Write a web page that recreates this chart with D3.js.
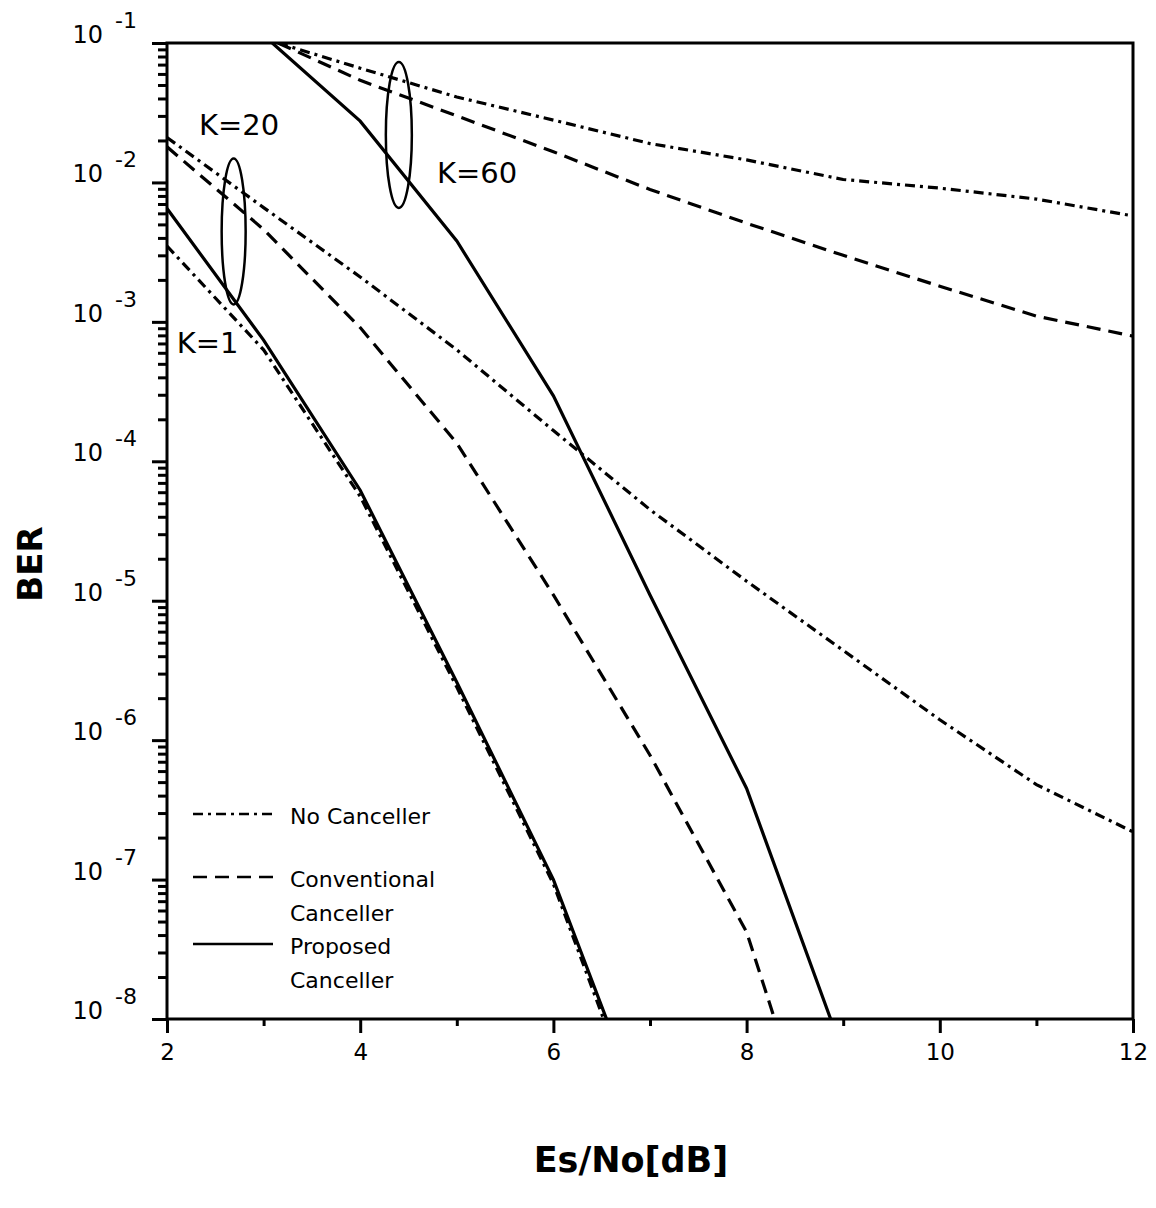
<!DOCTYPE html>
<html lang="en">
<head>
    <meta charset="UTF-8">
    <script src="https://d3js.org/d3.v7.min.js"></script>
    <title>BER vs Es/No</title>
</head>
<style>
*{
    font-family: 'DejaVu Sans', sans-serif;
}
body{
    margin: 0;
    background-color: white;
}
</style>
<body>
    <svg id='canvas'></svg>
</body>
<script>
// Es/No [dB] and BER, one pair of arrays per curve
let k1NoX = [2, 3, 4, 5, 6, 6.52]
let k1NoY = [3.5e-3, 6.3e-4, 5.6e-5, 2.4e-6, 9.3e-8, 1e-8]

let k20NoX = [2, 3, 4, 5, 6, 7, 8, 9, 10, 11, 12]
let k20NoY = [2.1e-2, 6.6e-3, 2.1e-3, 6.3e-4, 1.66e-4, 4.5e-5, 1.38e-5, 4.4e-6, 1.4e-6, 4.8e-7, 2.2e-7]

let k20ConvX = [2, 3, 4, 5, 6, 7, 8, 8.29]
let k20ConvY = [1.8e-2, 4.6e-3, 9.1e-4, 1.35e-4, 1.1e-5, 7.8e-7, 4.2e-8, 1e-8]

let k20PropX = [2, 3, 4, 5, 6, 6.55]
let k20PropY = [6.5e-3, 7.4e-4, 6.2e-5, 2.6e-6, 1e-7, 1e-8]

let k60NoX = [3.15, 4, 5, 6, 7, 8, 9, 10, 11, 12]
let k60NoY = [1e-1, 6.6e-2, 4.1e-2, 2.8e-2, 1.9e-2, 1.45e-2, 1.05e-2, 9.1e-3, 7.6e-3, 5.75e-3]

let k60ConvX = [3.15, 4, 5, 6, 7, 8, 9, 10, 11, 12]
let k60ConvY = [1e-1, 5.4e-2, 3.0e-2, 1.66e-2, 8.9e-3, 5.1e-3, 3.0e-3, 1.8e-3, 1.1e-3, 7.9e-4]

let k60PropX = [3.09, 4, 5, 6, 7, 8, 8.87]
let k60PropY = [1e-1, 2.75e-2, 3.8e-3, 2.95e-4, 1.1e-5, 4.5e-7, 1e-8]

let xTicks = [2, 4, 6, 8, 10, 12]
let xMinorTicks = [3, 5, 7, 9, 11]
let yExponents = [-1, -2, -3, -4, -5, -6, -7, -8]

let legendNames = [['No Canceller'], ['Conventional', 'Canceller'], ['Proposed', 'Canceller']]

// group annotations: [Es/No, BER]
let k20Ellipse = [2.69, 4.45e-3]
let k60Ellipse = [4.40, 2.19e-2]
let kLabels = [['K=20', 2.33, 2.19e-2], ['K=60', 4.795, 9.9e-3], ['K=1', 2.10, 6.0e-4]]

let width = 1156
let height = 1208
let plotLeft = 167
let plotRight = 1133
let plotTop = 43
let plotBottom = 1019

let dashNo = '10,5,3,5'
let dashConv = '14,8'

let svg = d3.select('#canvas')
    .attr('width', width)
    .attr('height', height)

let xScale = d3.scaleLinear()
    .domain([2, 12])
    .range([plotLeft, plotRight])

let yScale = d3.scaleLog()
    .domain([1e-8, 1e-1])
    .range([plotBottom, plotTop])

let zip = (xs, ys) => xs.map((x, i) => [x, ys[i]])

let series = [
    {pts: zip(k1NoX, k1NoY), dash: dashNo},
    {pts: zip(k20NoX, k20NoY), dash: dashNo},
    {pts: zip(k20ConvX, k20ConvY), dash: dashConv},
    {pts: zip(k20PropX, k20PropY), dash: null},
    {pts: zip(k60NoX, k60NoY), dash: dashNo},
    {pts: zip(k60ConvX, k60ConvY), dash: dashConv},
    {pts: zip(k60PropX, k60PropY), dash: null}
]

svg.append('clipPath')
    .attr('id', 'plot-clip')
    .append('rect')
    .attr('x', plotLeft)
    .attr('y', plotTop)
    .attr('width', plotRight - plotLeft)
    .attr('height', plotBottom - plotTop)

let line = d3.line()
    .x(d => xScale(d[0]))
    .y(d => yScale(d[1]))

svg.append('g')
    .attr('clip-path', 'url(#plot-clip)')
    .selectAll('path')
    .data(series)
    .enter()
    .append('path')
    .attr('d', d => line(d.pts))
    .attr('fill', 'none')
    .attr('stroke', 'black')
    .attr('stroke-width', 3.2)
    .attr('stroke-dasharray', d => d.dash)

// axes
let xAxis = d3.axisBottom(xScale)
    .tickValues(xTicks)
    .tickSize(14)
    .tickPadding(6)
    .tickFormat(d3.format('d'))

let xMinor = d3.axisBottom(xScale)
    .tickValues(xMinorTicks)
    .tickSize(7)
    .tickFormat('')

let gx = svg.append('g')
    .attr('transform', 'translate(0,' + plotBottom + ')')
    .call(xAxis)
svg.append('g')
    .attr('transform', 'translate(0,' + plotBottom + ')')
    .call(xMinor)

gx.selectAll('text')
    .attr('font-size', 23)
    .attr('font-family', 'DejaVu Sans')
    .attr('fill', 'black')
    .attr('dy', '0.9em')

let majorY = yExponents.map(e => Math.pow(10, e))
let minorY = []
yExponents.slice(1).forEach(e => {
    for (let m = 2; m <= 9; m++) minorY.push(m * Math.pow(10, e))
})

let yAxis = d3.axisLeft(yScale)
    .tickValues(majorY)
    .tickSize(15)
    .tickFormat('')
let yMinor = d3.axisLeft(yScale)
    .tickValues(minorY)
    .tickSize(9)
    .tickFormat('')

svg.append('g')
    .attr('transform', 'translate(' + plotLeft + ',0)')
    .call(yAxis)
svg.append('g')
    .attr('transform', 'translate(' + plotLeft + ',0)')
    .call(yMinor)

svg.selectAll('.domain').remove()
svg.selectAll('.tick line')
    .attr('stroke', 'black')
    .attr('stroke-width', 3)

// y tick labels 10^-n
let yl = svg.append('g')
yl.selectAll('text.base')
    .data(yExponents)
    .enter()
    .append('text')
    .attr('class', 'base')
    .attr('x', 103)
    .attr('y', d => yScale(Math.pow(10, d)))
    .attr('text-anchor', 'end')
    .attr('font-size', 24)
    .text('10')
yl.selectAll('text.exp')
    .data(yExponents)
    .enter()
    .append('text')
    .attr('class', 'exp')
    .attr('x', 115)
    .attr('y', d => yScale(Math.pow(10, d)) - 15)
    .attr('font-size', 22)
    .text(d => '-' + Math.abs(d))

// frame
svg.append('rect')
    .attr('x', plotLeft)
    .attr('y', plotTop)
    .attr('width', plotRight - plotLeft)
    .attr('height', plotBottom - plotTop)
    .attr('fill', 'none')
    .attr('stroke', 'black')
    .attr('stroke-width', 3)

// group ellipses and labels
svg.append('ellipse')
    .attr('cx', xScale(k20Ellipse[0]))
    .attr('cy', yScale(k20Ellipse[1]))
    .attr('rx', 12)
    .attr('ry', 73)
    .attr('fill', 'none')
    .attr('stroke', 'black')
    .attr('stroke-width', 2.5)
svg.append('ellipse')
    .attr('cx', xScale(k60Ellipse[0]))
    .attr('cy', yScale(k60Ellipse[1]))
    .attr('rx', 13)
    .attr('ry', 73)
    .attr('fill', 'none')
    .attr('stroke', 'black')
    .attr('stroke-width', 2.5)

svg.selectAll('text.klabel')
    .data(kLabels)
    .enter()
    .append('text')
    .attr('class', 'klabel')
    .attr('x', d => xScale(d[1]))
    .attr('y', d => yScale(d[2]))
    .attr('font-size', 29)
    .text(d => d[0])

// legend
let legendY = [814, 877, 944]
let legendDash = [dashNo, dashConv, null]
let lg = svg.append('g')
legendNames.forEach((names, i) => {
    lg.append('line')
        .attr('x1', 193)
        .attr('x2', 273)
        .attr('y1', legendY[i])
        .attr('y2', legendY[i])
        .attr('stroke', 'black')
        .attr('stroke-width', 2.5)
        .attr('stroke-dasharray', legendDash[i])
    names.forEach((n, j) => {
        lg.append('text')
            .attr('x', 290)
            .attr('y', legendY[i] + 10 + j * 34)
            .attr('font-size', 22)
            .text(n)
    })
})

// axis titles
svg.append('text')
    .attr('transform', 'translate(42,564) rotate(-90)')
    .attr('text-anchor', 'middle')
    .attr('font-size', 34)
    .attr('font-weight', 'bold')
    .text('BER')

svg.append('text')
    .attr('x', 631)
    .attr('y', 1172)
    .attr('text-anchor', 'middle')
    .attr('font-size', 35)
    .attr('font-weight', 'bold')
    .text('Es/No[dB]')
</script>
</html>
